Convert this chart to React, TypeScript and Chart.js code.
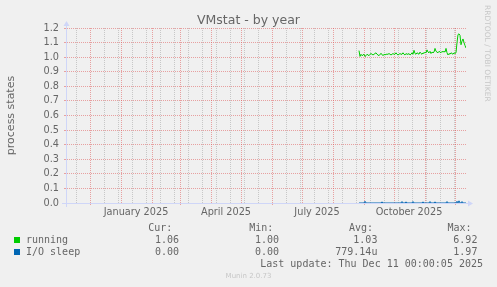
import React, { useEffect, useRef } from "react";
import { Chart, registerables } from "chart.js";

Chart.register(...registerables);

const DAY_MS = 86400000;
const AXIS_START = Date.UTC(2024, 10, 7);
const AXIS_DAYS = 400;
const SERIES_START = "2025-08-27";

// daily averages from SERIES_START
const runningValues = [
  1.045, 1.005, 1.02, 1.01, 1.015, 1.02, 1.005, 1.01, 1.02, 1.015,
  1.01, 1.02, 1.025, 1.02, 1.015, 1.02, 1.025, 1.03, 1.02, 1.015,
  1.01, 1.02, 1.025, 1.02, 1.01, 1.02, 1.015, 1.02, 1.02, 1.02,
  1.025, 1.02, 1.015, 1.02, 1.025, 1.02, 1.02, 1.03, 1.02, 1.015,
  1.02, 1.025, 1.02, 1.02, 1.03, 1.02, 1.015, 1.025, 1.02, 1.02,
  1.025, 1.015, 1.02, 1.03, 1.02, 1.047, 1.025, 1.02, 1.03, 1.025,
  1.02, 1.035, 1.025, 1.02, 1.03, 1.025, 1.035, 1.03, 1.05, 1.035,
  1.03, 1.04, 1.025, 1.035, 1.03, 1.035, 1.06, 1.04, 1.035, 1.03,
  1.04, 1.035, 1.03, 1.04, 1.035, 1.04, 1.035, 1.06, 1.03, 1.015,
  1.025, 1.02, 1.03, 1.025, 1.02, 1.03, 1.025, 1.03, 1.1, 1.155,
  1.16, 1.15, 1.085, 1.11, 1.125, 1.1, 1.08, 1.063,
];

const ioSleepValues = [
  0, 0, 0, 0, 0, 0, 0.012, 0, 0, 0, 0, 0,
  0, 0, 0, 0, 0, 0, 0, 0, 0, 0, 0, 0.008,
  0, 0, 0, 0, 0, 0, 0, 0, 0, 0, 0, 0,
  0, 0, 0, 0, 0, 0, 0, 0.01, 0, 0, 0, 0.008,
  0, 0, 0, 0, 0, 0, 0.01, 0, 0, 0, 0, 0,
  0, 0, 0, 0, 0.008, 0, 0, 0, 0, 0, 0, 0.01,
  0, 0, 0, 0, 0.008, 0, 0, 0, 0, 0, 0, 0,
  0, 0, 0, 0, 0.01, 0, 0, 0, 0, 0, 0, 0,
  0, 0, 0.012, 0, 0.015, 0, 0, 0.01, 0, 0, 0, 0,
];

const yTickValues = [0, 0.1, 0.2, 0.3, 0.4, 0.5, 0.6, 0.7, 0.8, 0.9, 1.0, 1.1, 1.2];

const monthGridDates = [
  "2024-12-01", "2025-01-01", "2025-02-01", "2025-03-01", "2025-04-01", "2025-05-01",
  "2025-06-01", "2025-07-01", "2025-08-01", "2025-09-01", "2025-10-01", "2025-11-01", "2025-12-01",
];
const tickMarkDates = ["2024-12-01", "2025-03-01", "2025-06-01", "2025-09-01", "2025-12-01"];
const minorGridDates = [
  "2024-11-17", "2024-12-15", "2024-12-29", "2025-01-12", "2025-01-26", "2025-02-09",
  "2025-02-23", "2025-03-09", "2025-03-23", "2025-04-06", "2025-04-20", "2025-05-04",
  "2025-05-18", "2025-06-15", "2025-06-29", "2025-07-13", "2025-07-27", "2025-08-10",
  "2025-08-24", "2025-09-07", "2025-09-21", "2025-10-05", "2025-10-19", "2025-11-02",
  "2025-11-16", "2025-11-30",
];
const quarterLabels = ["January 2025", "April 2025", "July 2025", "October 2025"];
const quarterLabelDates = ["2025-01-16", "2025-04-16", "2025-07-16", "2025-10-16"];

const title = "VMstat - by year";
const yAxisTitle = "process states";
const legendNames = ["running", "I/O sleep"];
const legendColors = ["#00cc00", "#0066b3"];
const legendHeaders = ["Cur:", "Min:", "Avg:", "Max:"];
const curValues = ["1.06", "0.00"];
const minValues = ["1.00", "0.00"];
const avgValues = ["1.03", "779.14u"];
const maxValues = ["6.92", "1.97"];
const lastUpdate = "Last update: Thu Dec 11 00:00:05 2025";
const muninVersion = "Munin 2.0.73";
const rrdWatermark = "RRDTOOL / TOBI OETIKER";

const FONT_COLOR = "#666666";
const AXIS_COLOR = "#CFD6F8";
const MGRID_COLOR = "rgba(222,79,79,0.5)";
const GRID_COLOR = "rgba(143,143,143,0.42)";
const WATER_COLOR = "#c7c7c7";
const SANS = "'DejaVu Sans'";
const MONO = "'DejaVu Sans Mono'";

const dayOf = (iso: string) => (Date.parse(iso + "T00:00:00Z") - AXIS_START) / DAY_MS;

export default function App() {
  const ref = useRef<HTMLCanvasElement>(null);

  useEffect(() => {
    const canvas = ref.current;
    if (!canvas) return;

    const kinds = new Map<number, { kind: string; label: string }>();
    minorGridDates.forEach((d) => kinds.set(dayOf(d), { kind: "minor", label: "" }));
    monthGridDates.forEach((d) => kinds.set(dayOf(d), { kind: "major", label: "" }));
    quarterLabelDates.forEach((d, i) => kinds.set(dayOf(d), { kind: "label", label: quarterLabels[i] }));
    const xTickValues = Array.from(kinds.keys()).sort((a, b) => a - b);
    const tickMarks = new Set(tickMarkDates.map(dayOf));

    const start = dayOf(SERIES_START);
    const runningPts = runningValues.map((v, i) => ({ x: start + i, y: v }));
    const ioPts = ioSleepValues.map((v, i) => ({ x: start + i, y: v }));

    const gridColorFor = (c: any) => {
      const k = kinds.get(c.tick?.value);
      if (!k) return "transparent";
      return k.kind === "major" ? MGRID_COLOR : k.kind === "minor" ? GRID_COLOR : "transparent";
    };
    const tickColorFor = (c: any) => (tickMarks.has(c.tick?.value) ? MGRID_COLOR : "transparent");

    const decorPlugin = {
      id: "muninDecor",
      afterDraw(chart: any) {
        const ctx = chart.ctx as CanvasRenderingContext2D;
        const a = chart.chartArea;
        ctx.save();
        // axis extensions
        ctx.strokeStyle = AXIS_COLOR;
        ctx.lineWidth = 1;
        const yb = a.bottom + 0.5;
        const xl = a.left + 0.5;
        ctx.beginPath();
        ctx.moveTo(a.left - 4, yb);
        ctx.lineTo(a.left, yb);
        ctx.moveTo(a.right, yb);
        ctx.lineTo(a.right + 4, yb);
        ctx.moveTo(xl, a.bottom);
        ctx.lineTo(xl, a.bottom + 4);
        ctx.moveTo(xl, a.top);
        ctx.lineTo(xl, a.top - 4);
        ctx.stroke();
        // arrows
        ctx.fillStyle = AXIS_COLOR;
        ctx.beginPath();
        ctx.moveTo(a.right + 2, yb - 3);
        ctx.lineTo(a.right + 2, yb + 3);
        ctx.lineTo(a.right + 7, yb);
        ctx.closePath();
        ctx.fill();
        ctx.beginPath();
        ctx.moveTo(xl - 3, a.top - 2);
        ctx.lineTo(xl + 3, a.top - 2);
        ctx.lineTo(xl, a.top - 7);
        ctx.closePath();
        ctx.fill();

        // title
        ctx.fillStyle = FONT_COLOR;
        ctx.font = `12.5px ${SANS}`;
        ctx.textAlign = "center";
        ctx.textBaseline = "alphabetic";
        ctx.fillText(title, chart.width / 2, 24.3);

        // watermarks
        ctx.fillStyle = WATER_COLOR;
        ctx.font = `7px ${SANS}`;
        ctx.fillText(muninVersion, chart.width / 2, 278);
        ctx.save();
        ctx.translate(chart.width - 6, 5);
        ctx.rotate(Math.PI / 2);
        ctx.textAlign = "left";
        ctx.textBaseline = "top";
        ctx.font = `7.5px ${SANS}`;
        ctx.fillText(rrdWatermark, 0, 0);
        ctx.restore();

        // legend
        ctx.fillStyle = FONT_COLOR;
        ctx.font = `10px ${MONO}`;
        ctx.textAlign = "left";
        const headerX = [148.3, 249.2, 349, 447.4];
        legendHeaders.forEach((h, i) => ctx.fillText(h, headerX[i], 231));
        const cols = [curValues, minValues, avgValues, maxValues];
        const colRight = [179, 279, 377.4, 477.4];
        legendNames.forEach((name, r) => {
          const y = 243 + r * 12;
          ctx.fillStyle = legendColors[r];
          ctx.fillRect(14, y - 6, 6, 6);
          ctx.fillStyle = FONT_COLOR;
          ctx.textAlign = "left";
          ctx.fillText(name, 26, y);
          ctx.textAlign = "right";
          cols.forEach((c, ci) => ctx.fillText(c[r], colRight[ci], y));
        });
        ctx.textAlign = "right";
        ctx.fillText(lastUpdate, 483, 267);
        ctx.restore();
      },
    };

    const chart = new Chart(canvas, {
      type: "line",
      data: {
        datasets: [
          {
            label: legendNames[0],
            data: runningPts,
            borderColor: legendColors[0],
            backgroundColor: legendColors[0],
            borderWidth: 1,
            pointRadius: 0,
            tension: 0,
            order: 2,
          },
          {
            label: legendNames[1],
            data: ioPts,
            borderColor: legendColors[1],
            backgroundColor: legendColors[1],
            borderWidth: 1,
            pointRadius: 0,
            tension: 0,
            order: 1,
          },
        ],
      },
      options: {
        animation: false,
        responsive: false,
        devicePixelRatio: 1,
        events: [],
        layout: { padding: { top: 28, right: 31, bottom: 0, left: 0 } },
        plugins: {
          legend: { display: false },
          tooltip: { enabled: false },
          title: { display: false },
        },
        scales: {
          x: {
            type: "linear",
            min: 0,
            max: AXIS_DAYS,
            afterFit: (s: any) => {
              s.height = 84;
            },
            afterBuildTicks: (s: any) => {
              s.ticks = xTickValues.map((v) => ({ value: v }));
            },
            border: { display: true, color: AXIS_COLOR, width: 1, dash: [1, 1] },
            grid: {
              color: gridColorFor,
              tickColor: tickColorFor,
              lineWidth: 1,
              tickLength: 2,
              drawTicks: true,
            },
            ticks: {
              autoSkip: false,
              maxRotation: 0,
              minRotation: 0,
              padding: 2,
              color: FONT_COLOR,
              font: { family: "DejaVu Sans", size: 9.72 },
              callback: (v: any) => kinds.get(Number(v))?.label ?? "",
            },
          },
          y: {
            type: "linear",
            min: 0,
            max: 1.2,
            afterFit: (s: any) => {
              s.width = 66;
            },
            afterBuildTicks: (s: any) => {
              s.ticks = yTickValues.map((v) => ({ value: v }));
            },
            border: { display: true, color: AXIS_COLOR, width: 1, dash: [1, 1] },
            grid: {
              color: (c: any) => (c.tick && c.tick.value === 0 ? "transparent" : MGRID_COLOR),
              tickColor: MGRID_COLOR,
              lineWidth: 1,
              tickLength: 2,
            },
            ticks: {
              autoSkip: false,
              padding: 5,
              color: FONT_COLOR,
              font: { family: "DejaVu Sans", size: 9.72 },
              callback: (v: any) => Number(v).toFixed(1),
            },
            title: {
              display: true,
              text: yAxisTitle,
              color: FONT_COLOR,
              font: { family: "DejaVu Sans", size: 11 },
              padding: { top: 5, bottom: 0 },
            },
          },
        },
      },
      plugins: [decorPlugin],
    } as any);

    return () => chart.destroy();
  }, []);

  return (
    <div
      style={{
        position: "fixed",
        left: 0,
        top: 0,
        width: 497,
        height: 287,
        background: "#f0f0f0",
      }}
    >
      <canvas ref={ref} width={497} height={287} style={{ display: "block" }} />
    </div>
  );
}
